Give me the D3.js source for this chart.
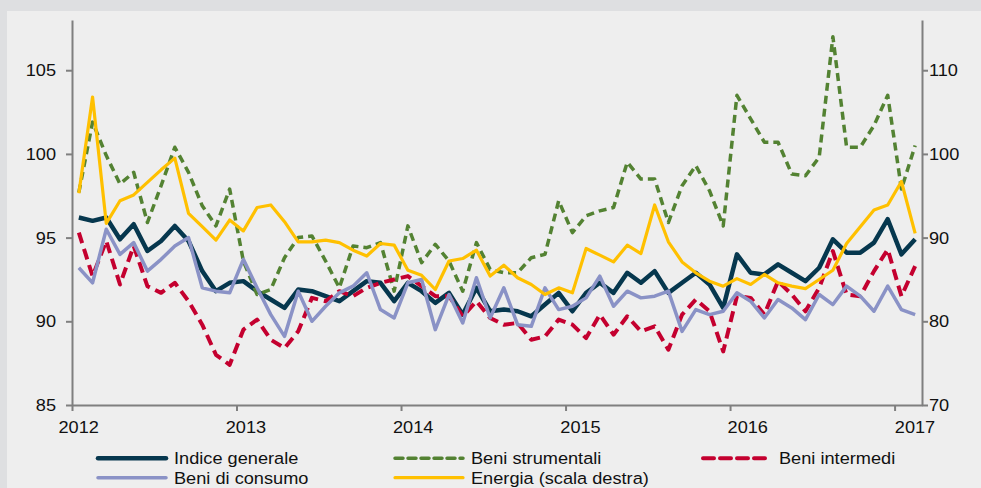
<!DOCTYPE html>
<html>
<head>
<meta charset="utf-8">
<script src="https://cdn.jsdelivr.net/npm/d3@7"></script>
<style>
  html, body { margin:0; padding:0; background:#dedfe1; }
  svg { display:block; }
  text { font-family:"Liberation Sans", Arial, sans-serif; font-size:17px; fill:#111; }
</style>
</head>
<body>
<div id="plot"></div>
<script>
// monthly data, Jan 2012 - Feb 2017
var years = [2012, 2013, 2014, 2015, 2016, 2017];
var leftTicks = [85, 90, 95, 100, 105];
var rightTicks = [70, 80, 90, 100, 110];

var indiceGenerale = [96.2,96.0,96.2,94.9,95.8,94.2,94.8,95.7,94.8,93.0,91.8,92.3,92.4,
  91.8,91.3,90.8,91.9,91.8,91.5,91.2,91.8,92.4,92.3,91.2,92.3,
  91.8,91.1,91.7,90.4,92.0,90.6,90.7,90.6,90.3,91.0,91.7,90.6,
  91.7,92.3,91.7,92.9,92.3,93.0,91.7,92.3,92.9,92.2,90.8,94.0,
  92.9,92.8,93.4,92.9,92.4,93.2,94.9,94.1,94.1,94.7,96.1,94.0,94.9];
var beniStrumentali = [97.7,101.9,99.9,98.2,98.9,95.9,98.1,100.4,98.9,96.9,95.7,97.9,93.6,
  91.6,91.9,93.8,95.0,95.1,93.6,92.0,94.5,94.4,94.7,91.8,95.7,
  93.5,94.6,93.6,91.8,94.7,93.1,92.9,92.9,93.8,94.0,97.2,95.3,
  96.3,96.6,96.8,99.5,98.5,98.5,95.9,98.1,99.3,97.8,95.7,103.5,
  102.1,100.7,100.7,98.8,98.7,99.8,107.0,100.4,100.4,101.7,103.5,97.9,100.5];
var beniIntermedi = [95.3,92.7,94.8,92.2,94.5,92.1,91.7,92.3,91.2,89.8,88.0,87.4,89.5,
  90.1,88.9,88.4,89.4,91.4,91.2,91.8,91.5,92.0,92.3,92.5,92.7,
  92.1,91.5,91.5,90.3,91.2,90.2,89.8,89.9,88.9,89.1,90.1,89.8,
  89.0,90.4,89.2,90.3,89.4,89.7,88.3,90.4,91.3,90.6,88.2,91.5,
  91.4,90.4,92.4,91.6,90.6,92.0,94.2,91.6,91.5,93.0,94.3,91.5,93.3];
var beniConsumo = [93.2,92.3,95.5,94.0,94.7,93.0,93.7,94.5,95.0,92.0,91.8,91.7,93.7,
  92.0,90.4,89.1,91.8,90.0,90.9,91.7,92.1,92.9,90.7,90.2,92.3,
  92.5,89.5,91.6,89.9,92.6,90.2,92.0,89.8,89.7,92.0,90.7,90.9,
  91.4,92.7,90.9,91.8,91.4,91.5,91.8,89.4,90.7,90.4,90.6,91.7,
  91.2,90.2,91.3,90.8,90.1,91.6,91.0,92.1,91.5,90.6,92.1,90.7,90.4];
var energia = [95.3,106.8,91.7,94.4,95.1,96.6,98.1,99.5,92.9,91.3,89.7,92.1,90.8,
  93.6,93.9,91.9,89.5,89.5,89.7,89.4,88.5,87.8,89.3,89.1,86.1,
  85.5,83.8,87.2,87.5,88.5,85.4,86.7,85.2,84.4,83.2,84.0,83.4,
  88.7,87.9,87.1,89.1,88.1,93.9,89.5,87.1,85.8,84.8,84.2,85.1,
  84.4,85.6,84.6,84.2,83.9,85.0,86.1,89.3,91.3,93.3,93.9,96.7,90.5];

var series = [
  {name:'Indice generale', values:indiceGenerale, axis:'left', color:'#06374e', width:4.5, dash:null},
  {name:'Beni strumentali', values:beniStrumentali, axis:'left', color:'#538232', width:3.5, dash:'8,5'},
  {name:'Beni intermedi', values:beniIntermedi, axis:'left', color:'#c4002f', width:4, dash:'11,6'},
  {name:'Beni di consumo', values:beniConsumo, axis:'left', color:'#8a92c6', width:3.5, dash:null},
  {name:'Energia (scala destra)', values:energia, axis:'right', color:'#ffc000', width:3.2, dash:null}
];

var W = 981, H = 488;
var margin = {l:72, r:922, t:20, b:405};

var svg = d3.select('#plot').append('svg')
  .attr('width', W).attr('height', H);

// panel
svg.append('rect')
  .attr('x', 7).attr('y', 11)
  .attr('width', W - 7).attr('height', H - 11)
  .style('fill', '#eeeeee');

var x = d3.scaleLinear().domain([0, 62]).range([margin.l, margin.r]);
var labelX = d3.scaleLinear().domain([0, 60]).range([78.7, 915]);
var yL = d3.scaleLinear().domain([85, 108]).range([margin.b, margin.t]);
var yR = d3.scaleLinear().domain([70, 116]).range([margin.b, margin.t]);

function styleAxis(g) {
  g.selectAll('path, line').style('stroke', '#7f7f7f').style('stroke-width', 2);
  g.selectAll('text').remove();
}

svg.append('g')
  .attr('transform', 'translate(' + margin.l + ',0)')
  .call(d3.axisLeft(yL).tickValues(leftTicks).tickSize(6).tickSizeOuter(0))
  .call(styleAxis);

svg.append('g')
  .attr('transform', 'translate(' + margin.r + ',0)')
  .call(d3.axisRight(yR).tickValues(rightTicks).tickSize(6).tickSizeOuter(0))
  .call(styleAxis);

svg.append('g')
  .attr('transform', 'translate(0,' + margin.b + ')')
  .call(d3.axisBottom(x).tickValues(years.map(function(d){ return (d - 2012) * 12; })).tickSize(6).tickSizeOuter(0))
  .call(styleAxis);

function label(xp, yp, txt, anchor) {
  svg.append('text')
    .attr('transform', 'translate(' + xp + ',' + yp + ') scale(1.07,1)')
    .attr('text-anchor', anchor)
    .text(txt);
}

leftTicks.forEach(function(d){ label(56, yL(d) + 6.1, d, 'end'); });
rightTicks.forEach(function(d){ label(929, yR(d) + 6.1, d, 'start'); });
years.forEach(function(d){ label(labelX((d - 2012) * 12), 433, d, 'middle'); });

// lines
series.forEach(function(s) {
  var y = s.axis == 'left' ? yL : yR;
  var line = d3.line()
    .x(function(d, i){ return x(i + 0.5); })
    .y(function(d){ return y(d); });
  svg.append('path')
    .datum(s.values)
    .attr('d', line)
    .style('fill', 'none')
    .style('stroke', s.color)
    .style('stroke-width', s.width)
    .style('stroke-linejoin', 'round')
    .style('stroke-dasharray', s.dash);
});

// legend
var legendPos = [[96, 458.3], [393, 458.3], [701, 458.3], [96, 477.7], [393, 477.7]];
series.forEach(function(s, i) {
  var p = legendPos[i];
  svg.append('line')
    .attr('x1', p[0] + 2).attr('x2', p[0] + 70)
    .attr('y1', p[1]).attr('y2', p[1])
    .style('stroke', s.color)
    .style('stroke-width', s.width)
    .style('stroke-linecap', 'round')
    .style('stroke-dasharray', s.dash);
  label(p[0] + 78, p[1] + 6, s.name, 'start');
});
</script>
</body>
</html>
